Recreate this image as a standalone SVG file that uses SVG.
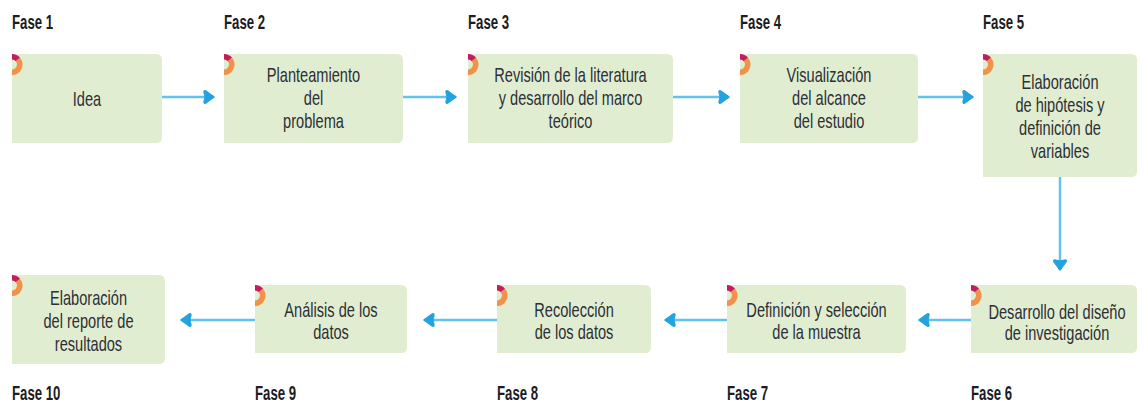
<svg xmlns="http://www.w3.org/2000/svg" xmlns:xlink="http://www.w3.org/1999/xlink" width="1145" height="405" viewBox="0 0 1145 405">
<style>
.box{fill:#e1edd0;}
.t{font-family:"Liberation Sans",Arial,sans-serif;font-size:20px;fill:#2c2f37;text-anchor:middle;}
.f{font-family:"Liberation Sans",Arial,sans-serif;font-size:20px;font-weight:bold;fill:#1c1c22;}
.c{stroke:#62c3ee;stroke-width:2.5;fill:none;marker-end:url(#ah);}
</style>
<defs>
<marker id="ah" markerUnits="userSpaceOnUse" markerWidth="16" markerHeight="16" refX="13" refY="7" orient="auto" overflow="visible">
<path d="M13.5,7 L5,0.8 Q2.5,-0.5 2.8,2.2 L4,7 L2.8,11.8 Q2.5,14.5 5,13.2 Z" fill="#22a2df" stroke="#22a2df" stroke-width="1" stroke-linejoin="round"/>
</marker>
<g id="deco">
<path d="M0,-10.5 A10.5,10.5 0 0 1 8.04,-6.75 L3.83,-3.21 A5,5 0 0 0 0,-5 Z" fill="#c51c5c"/>
<path d="M8.04,-6.75 A10.5,10.5 0 0 1 0,10.5 L0,5 A5,5 0 0 0 3.83,-3.21 Z" fill="#f2924a"/>
</g>
</defs>
<rect width="1145" height="405" fill="#ffffff"/>

<g id="connectors">
<line class="c" x1="162" y1="97" x2="214" y2="97"/>
<line class="c" x1="403" y1="97" x2="456" y2="97"/>
<line class="c" x1="673" y1="97" x2="729" y2="97"/>
<line class="c" x1="918" y1="97" x2="973" y2="97"/>
<line class="c" x1="1060" y1="177" x2="1060" y2="270"/>
<line class="c" x1="971" y1="320" x2="919" y2="320"/>
<line class="c" x1="727" y1="320" x2="665" y2="320"/>
<line class="c" x1="497" y1="320" x2="424" y2="320"/>
<line class="c" x1="255" y1="320" x2="181" y2="320"/>
</g>

<g id="fase1">
<text class="f" transform="translate(12,29) scale(0.66,1)">Fase 1</text>
<path class="box" d="M12,54 H156 Q162,54 162,60 V137 Q162,143 156,143 H12 Z"/>
<use xlink:href="#deco" x="12" y="64.5"/>
<text class="t" transform="translate(87,0) scale(0.73,1)"><tspan x="0" y="106">Idea</tspan></text>
</g>

<g id="fase2">
<text class="f" transform="translate(224,29) scale(0.66,1)">Fase 2</text>
<path class="box" d="M224,54 H397 Q403,54 403,60 V137 Q403,143 397,143 H224 Z"/>
<use xlink:href="#deco" x="224" y="64.5"/>
<text class="t" transform="translate(313.5,0) scale(0.73,1)"><tspan x="0" y="82">Planteamiento</tspan><tspan x="0" y="105">del</tspan><tspan x="0" y="128">problema</tspan></text>
</g>

<g id="fase3">
<text class="f" transform="translate(468,29) scale(0.66,1)">Fase 3</text>
<path class="box" d="M468,54 H667 Q673,54 673,60 V137 Q673,143 667,143 H468 Z"/>
<use xlink:href="#deco" x="468" y="64.5"/>
<text class="t" transform="translate(570.5,0) scale(0.73,1)"><tspan x="0" y="82">Revisión de la literatura</tspan><tspan x="0" y="105">y desarrollo del marco</tspan><tspan x="0" y="128">teórico</tspan></text>
</g>

<g id="fase4">
<text class="f" transform="translate(740,29) scale(0.66,1)">Fase 4</text>
<path class="box" d="M740,54 H912 Q918,54 918,60 V137 Q918,143 912,143 H740 Z"/>
<use xlink:href="#deco" x="740" y="64.5"/>
<text class="t" transform="translate(829,0) scale(0.73,1)"><tspan x="0" y="82">Visualización</tspan><tspan x="0" y="105">del alcance</tspan><tspan x="0" y="128">del estudio</tspan></text>
</g>

<g id="fase5">
<text class="f" transform="translate(983,29) scale(0.66,1)">Fase 5</text>
<path class="box" d="M983,54 H1131 Q1137,54 1137,60 V171 Q1137,177 1131,177 H983 Z"/>
<use xlink:href="#deco" x="983" y="64.5"/>
<text class="t" transform="translate(1060,0) scale(0.73,1)"><tspan x="0" y="89">Elaboración</tspan><tspan x="0" y="112">de hipótesis y</tspan><tspan x="0" y="135">definición de</tspan><tspan x="0" y="158">variables</tspan></text>
</g>

<g id="fase6">
<text class="f" transform="translate(971,400) scale(0.66,1)">Fase 6</text>
<path class="box" d="M971,285 H1131 Q1137,285 1137,291 V347 Q1137,353 1131,353 H971 Z"/>
<use xlink:href="#deco" x="971" y="295.5"/>
<text class="t" transform="translate(1057,0) scale(0.73,1)"><tspan x="0" y="319">Desarrollo del diseño</tspan><tspan x="0" y="340">de investigación</tspan></text>
</g>

<g id="fase7">
<text class="f" transform="translate(727,400) scale(0.66,1)">Fase 7</text>
<path class="box" d="M727,285 H900 Q906,285 906,291 V347 Q906,353 900,353 H727 Z"/>
<use xlink:href="#deco" x="727" y="295.5"/>
<text class="t" transform="translate(816.5,0) scale(0.73,1)"><tspan x="0" y="317">Definición y selección</tspan><tspan x="0" y="339">de la muestra</tspan></text>
</g>

<g id="fase8">
<text class="f" transform="translate(497,400) scale(0.66,1)">Fase 8</text>
<path class="box" d="M497,285 H645 Q651,285 651,291 V347 Q651,353 645,353 H497 Z"/>
<use xlink:href="#deco" x="497" y="295.5"/>
<text class="t" transform="translate(574,0) scale(0.73,1)"><tspan x="0" y="317">Recolección</tspan><tspan x="0" y="339">de los datos</tspan></text>
</g>

<g id="fase9">
<text class="f" transform="translate(255,400) scale(0.66,1)">Fase 9</text>
<path class="box" d="M255,285 H401 Q407,285 407,291 V347 Q407,353 401,353 H255 Z"/>
<use xlink:href="#deco" x="255" y="295.5"/>
<text class="t" transform="translate(331,0) scale(0.73,1)"><tspan x="0" y="317">Análisis de los</tspan><tspan x="0" y="339">datos</tspan></text>
</g>

<g id="fase10">
<text class="f" transform="translate(12,400) scale(0.66,1)">Fase 10</text>
<path class="box" d="M12,275 H159 Q165,275 165,281 V358 Q165,364 159,364 H12 Z"/>
<use xlink:href="#deco" x="12" y="285.5"/>
<text class="t" transform="translate(88.5,0) scale(0.73,1)"><tspan x="0" y="305">Elaboración</tspan><tspan x="0" y="328">del reporte de</tspan><tspan x="0" y="351">resultados</tspan></text>
</g>
</svg>
